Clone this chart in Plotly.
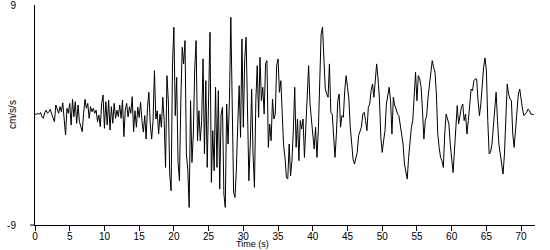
import plotly.graph_objects as go

# Sampling interval of the record (s)
DT = 0.2

# Acceleration (cm/s/s), in consecutive 14.4 s blocks
accel_a = [0.08, 0.05, 0.14, 0.05, 0.2, -0.14, -0.27, 0.2, 0.4, 0.14, 0.27, 0.46, 0.08, -0.27, -0.55, 0.82,
           0.4, 0.14, 0.68, 0.27, 1.0, -0.4, -1.64, 0.55, 0.14, 0.95, -0.82, 1.28, -0.14, 1.09, -0.68, 0.82,
           -0.55, -0.95, -1.36, 0.14, 1.28, 0.55, 0.95, -0.27, 0.68, 0.27, 0.55, 0.14, 0.4, -0.55, 0.0, -0.95,
           0.95, 1.64, -1.09, 1.09, -0.82, 1.23, -1.23, 0.68, -0.68, 0.95, -0.27, 0.4, -0.14, 0.82, -0.27, 1.23,
           -1.77, 0.4, 0.95, -0.14, 0.68, 0.14, 1.5, -1.36]
accel_b = [0.35, -1.0, 0.63, -0.2, 1.04, -0.46, -1.4, -0.05, -1.97, 0.63, 1.86, -0.74, -1.97, -0.46, 3.63, -0.33,
           0.35, -1.56, 0.08, -1.0, 1.45, -0.46, -4.29, 3.22, 1.17, -4.83, -6.2, 4.18, 7.18, -0.05, 3.08, -3.88,
           -5.38, 1.17, 5.54, 4.18, 6.09, -3.19, -4.42, -7.56, 1.17, -3.88, -1.56, 3.77, 6.09, -2.1, 0.35, -2.1,
           -0.46, 4.59, -3.19, 2.81, -4.29, 1.45, 6.77, -5.51, -1.28, -4.56, 2.27, -4.29, 1.99, -6.06, 0.08, 0.63,
           -6.47, -7.56, 0.9, -2.38, 1.17, 8.0, 0.08, -6.33]
accel_c = [-6.74, -4.42, -0.74, 2.4, -1.83, 6.22, -1.0, 4.59, 6.36, -0.33, -5.38, -2.38, 2.13, -3.19, -5.92, 1.17,
           4.04, -0.19, 4.72, 1.17, 2.27, 0.08, 4.18, 4.45, -2.65, -0.74, -2.1, 1.31, -0.33, 0.08, 4.04, 4.59,
           1.86, 2.81, -0.19, -2.51, -3.47, -5.1, -5.24, -2.38, -4.97, -3.74, -1.28, 2.27, -2.65, -0.33, -3.74, -0.46,
           -1.15, -0.33, -3.47, -0.6, 1.17, 4.04, 0.9, -0.46, -1.28, -2.78, -1.0, -3.47, -1.28, 2.54, 6.63, 7.18,
           4.45, 2.13, 1.72, 1.45, 4.18, 0.22, 0.08, -2.24]
accel_d = [-3.47, -1.56, 1.17, 1.72, -1.0, -0.05, -0.19, 1.99, 3.22, 2.27, 1.31, -1.0, -2.65, -3.6, -4.01, -3.47,
           -3.06, -1.69, -1.28, -1.0, 0.08, 0.22, -0.46, -1.28, 0.63, 0.9, 1.99, 2.54, 1.45, 3.08, 4.18, 2.95,
           1.31, -1.83, -3.06, -2.1, -1.28, 0.9, 1.72, 2.27, 1.17, -1.56, 1.45, 0.77, 0.49, 0.08, -0.05, -0.87,
           -1.28, -2.38, -4.01, -4.7, -5.24, -3.47, -1.83, -1.0, -0.46, 1.17, 3.49, 1.17, 3.22, 2.95, 2.27, 0.35,
           -1.97, -0.46, -0.05, 1.45, 2.54, 3.22, 4.45, 3.9]
accel_e = [3.49, 1.72, -1.56, -2.65, -3.47, -3.74, -4.29, -1.56, 0.08, -0.33, -0.74, -2.38, -3.47, -4.7, -2.92, -0.46,
           0.77, -0.74, 0.08, 0.63, 0.9, -0.46, 0.08, -1.56, -0.46, 0.63, 2.13, 1.99, 2.81, 2.95, 2.95, 1.17,
           -0.05, 0.9, 2.81, 3.9, 4.67, 3.63, -0.46, -3.19, -3.06, -2.38, -1.0, 0.35, 1.86, -0.46, -2.38, -3.19,
           -4.29, -4.83, -3.19, 0.35, 2.54, 1.72, 1.31, 1.17, -1.56, -2.65, -1.28, 0.63, 1.72, 2.13, 1.17, 0.49,
           -0.05, 0.08, 0.22, 0.49, 0.35, 0.08, 0.03, 0.03]

accel = accel_a + accel_b + accel_c + accel_d + accel_e
time_s = [round(i * DT, 2) for i in range(len(accel))]

x_ticks = [0, 5, 10, 15, 20, 25, 30, 35, 40, 45, 50, 55, 60, 65, 70]
y_ticks = [-9, 9]

FONT = "Liberation Sans, Arial, sans-serif"

fig = go.Figure()
fig.add_trace(go.Scatter(x=time_s, y=accel, mode="lines",
                         line=dict(color="black", width=1), hoverinfo="skip"))

fig.update_layout(
    width=550, height=250,
    margin=dict(l=35, r=15, t=5, b=25),
    paper_bgcolor="white", plot_bgcolor="white",
    showlegend=False,
    font=dict(family=FONT, size=10, color="black"),
    xaxis=dict(range=[0, 72], tickvals=x_ticks, ticktext=[str(v) for v in x_ticks],
               ticks="outside", ticklen=5, tickwidth=1, tickcolor="black",
               showline=True, linecolor="black", linewidth=1,
               showgrid=False, zeroline=False, tickfont=dict(size=10),
               ticklabelstandoff=-3, ticklabeloverflow="allow", automargin=False),
    yaxis=dict(range=[-9, 9], tickvals=y_ticks, ticktext=[str(v) for v in y_ticks],
               ticks="", showline=True, linecolor="black", linewidth=1,
               showgrid=False, zeroline=False, ticklabelstandoff=16,
               ticklabeloverflow="allow", automargin=False, tickfont=dict(size=10)),
    annotations=[
        dict(text="cm/s/s", xref="paper", yref="paper", x=-0.046, y=0.5,
             textangle=-90, showarrow=False, xanchor="center", yanchor="middle",
             font=dict(size=10)),
        dict(text="Time (s)", xref="paper", yref="paper", x=0.434, y=-0.1136,
             showarrow=False, xanchor="center", yanchor="bottom", borderpad=0,
             font=dict(size=9)),
    ],
    shapes=[dict(type="line", xref="paper", yref="paper", x0=-0.01, x1=0, y0=0, y1=0,
                 line=dict(color="black", width=1))],
)

fig.write_html("out.html")
